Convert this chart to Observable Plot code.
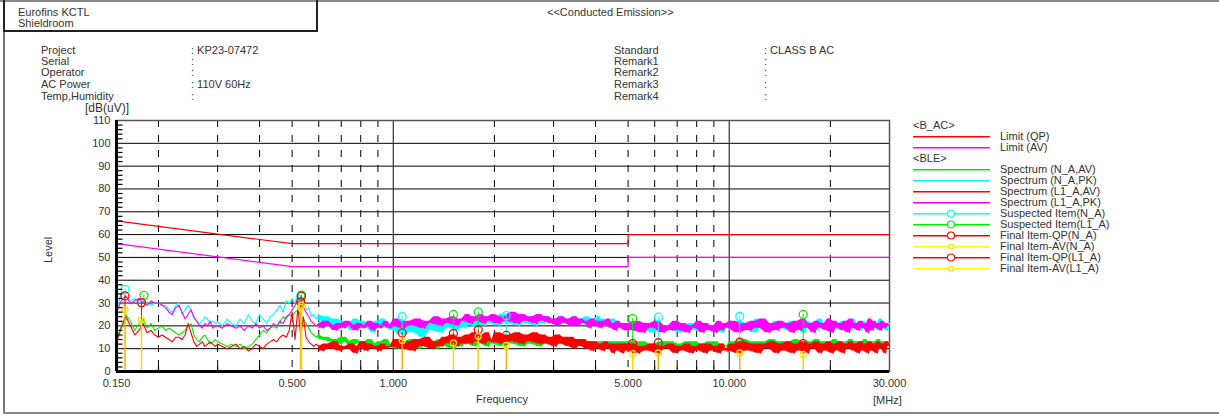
<!DOCTYPE html>
<html><head><meta charset="utf-8">
<script src="https://cdn.jsdelivr.net/npm/d3@7"></script>
<script src="https://cdn.jsdelivr.net/npm/@observablehq/plot@0.6"></script>
<style>
body{margin:0;background:#fff;font-family:"Liberation Sans",Arial,sans-serif;color:#333;}
#page{position:relative;width:1219px;height:416px;overflow:hidden;background:#fff;}
#chart{position:absolute;left:0;top:0;}
.t{position:absolute;font-size:11px;line-height:12px;white-space:nowrap;color:#333;}
.leg{position:absolute;left:913px;width:300px;height:11px;}
.leg svg{position:absolute;left:0;top:0;}
.leg span{position:absolute;left:87px;top:-1px;font-size:11px;line-height:12px;color:#333;white-space:nowrap;}
</style></head>
<body>
<div id="page">
  <div id="chart"></div>
  <div style="position:absolute;left:0;top:0;width:1219px;height:0;border-top:2px solid #888;"></div>
  <div style="position:absolute;left:3px;top:0;width:0;height:414px;border-left:2px solid #777;"></div>
  <div style="position:absolute;left:3px;top:412px;width:1216px;height:0;border-top:2px solid #888;"></div>
  <div style="position:absolute;left:3px;top:0;width:311px;height:30px;border:2px solid #222;border-top:none;"></div>
  <div class="t" style="left:18px;top:6px;">Eurofins KCTL</div>
  <div class="t" style="left:18px;top:17px;">Shieldroom</div>
  <div class="t" style="left:547px;top:6px;">&lt;&lt;Conducted Emission&gt;&gt;</div>
  <div id="info"></div>
  <div class="t" style="left:85px;top:102px;font-size:12px;">[dB(uV)]</div>
  <div class="t" style="left:30px;top:239px;transform:rotate(-90deg);transform-origin:18px 6px;">Level</div>
  <div class="t" style="left:476px;top:393px;">Frequency</div>
  <div class="t" style="left:873px;top:394px;">[MHz]</div>
  <div id="legend"></div>
</div>
<script>
// ---------- header info ----------
const infoLeftLabels = ["Project", "Serial", "Operator", "AC Power", "Temp,Humidity"];
const infoLeftValues = [": KP23-07472", ":", ":", ": 110V 60Hz", ":"];
const infoRightLabels = ["Standard", "Remark1", "Remark2", "Remark3", "Remark4"];
const infoRightValues = [": CLASS B AC", ":", ":", ":", ":"];

// ---------- axes ----------
const xDomain = [0.15, 30];
const yDomain = [0, 110];
const xLabelTicks = [0.15, 0.5, 1, 5, 10, 30];
const xDashGrid = [0.2, 0.3, 0.4, 0.5, 0.6, 0.7, 0.8, 0.9, 2, 3, 4, 5, 6, 7, 8, 9, 20];
const xSolidGrid = [1, 10];
const xMinorTicks = [0.2, 0.3, 0.4, 0.6, 0.7, 0.8, 0.9, 2, 3, 4, 6, 7, 8, 9, 20];
const yMajorTicks = [0, 10, 20, 30, 40, 50, 60, 70, 80, 90, 100, 110];
const yGrid = [10, 20, 30, 40, 50, 60, 70, 80, 90, 100];
const yMinorTicks = [2,4,6,8,12,14,16,18,22,24,26,28,32,34,36,38,42,44,46,48,52,54,56,58,62,64,66,68,72,74,76,78,82,84,86,88,92,94,96,98,102,104,106,108];
const noiseStart = 0.6; // above this the sweep is drawn as a dense noise trace

// ---------- limits (B_AC) ----------
const limitFreq = [0.15, 0.5, 5, 5, 30];
const limitQP = [66, 56, 56, 60, 60];
const limitAV = [56, 46, 46, 50, 50];

// ---------- spectrum sweep frequencies (MHz) ----------
const freq = [
  0.150,0.155,0.160,0.165,0.170,0.175,0.180,0.185,0.190,0.195,
  0.200,0.205,0.210,0.215,0.220,0.225,0.230,0.235,0.240,0.245,0.250,0.255,0.260,0.265,0.270,0.275,0.280,0.285,0.290,0.295,
  0.30,0.31,0.32,0.33,0.34,0.35,0.36,0.37,0.38,0.39,0.40,0.41,0.42,0.43,0.44,0.45,0.46,0.47,0.48,0.49,
  0.50,0.51,0.52,0.53,0.54,0.55,0.56,0.57,0.58,0.59,
  0.60,0.62,0.64,0.66,0.68,0.70,0.72,0.74,0.76,0.78,0.80,0.82,0.84,0.86,0.88,0.90,0.92,0.94,0.96,0.98,
  1.00,1.04,1.08,1.12,1.16,1.20,1.24,1.28,1.32,1.36,1.40,1.44,1.48,1.52,1.56,1.60,1.64,1.68,1.72,1.76,1.80,1.84,1.88,1.92,1.96,
  2.000,2.075,2.150,2.225,2.300,2.375,2.450,2.525,2.600,2.675,2.750,2.825,2.900,2.975,3.050,3.125,3.200,3.275,3.350,3.425,
  3.500,3.575,3.650,3.725,3.800,3.875,3.950,4.025,4.100,4.175,4.250,4.325,4.400,4.475,4.550,4.625,4.700,4.775,4.850,4.925,
  5.0,5.2,5.4,5.6,5.8,6.0,6.2,6.4,6.6,6.8,7.0,7.2,7.4,7.6,7.8,8.0,8.2,8.4,8.6,8.8,9.0,9.2,9.4,9.6,9.8,
  10.0,10.4,10.8,11.2,11.6,12.0,12.4,12.8,13.2,13.6,14.0,14.4,14.8,15.2,15.6,16.0,16.4,16.8,17.2,17.6,18.0,18.4,18.8,19.2,19.6,
  20.0,20.4,20.8,21.2,21.6,22.0,22.4,22.8,23.2,23.6,24.0,24.4,24.8,25.2,25.6,26.0,26.4,26.8,27.2,27.6,28.0,28.4,28.8,29.2,29.6,30.0
];

// Spectrum (N_A,AV) - green
const specNAV = [
  14,20,25,22,18,21,23,19,21,18,
  19,20,18,19,18,17,16,17,18,20,21,16,14,13,15,16,14,12,13,14,
  13,12,11,12,11,12,10,11,12,14,16,18,17,19,20,19,22,24,23,25,
  24,26,27,25,23,21,19,17,16,15,
  16,14,15,13,14,12,15,13,11,14,12,13,11,14,12,10,13,12,14,11,
  12,10,13,11,14,10,12,11,13,10,14,11,12,10,13,11,14,12,13,11,14,12,13,11,14,
  12,14,11,13,12,14,11,13,12,14,11,13,12,14,11,13,12,13,11,13,
  12,13,11,13,12,13,11,13,11,13,10,13,11,13,10,13,11,13,10,13,
  11,13,10,13,11,12,10,13,11,13,10,12,11,13,10,13,11,12,10,13,11,13,10,12,11,
  11,13,10,14,11,13,10,13,11,14,10,13,11,13,10,14,11,13,10,13,11,14,10,13,11,
  13,10,14,11,13,10,13,11,14,10,13,11,13,10,14,11,13,10,13,11,14,10,13,11,13,12
];
// Spectrum (N_A,PK) - cyan
const specNPK = [
  26,35,33,31,32,30,31,30,29,30,
  30,29,29,27,26,29,30,25,27,29,27,23,22,21,22,24,23,21,22,21,
  22,20,23,21,20,23,21,25,22,21,25,23,21,24,25,27,29,26,31,30,
  32,30,34,33,31,27,28,24,25,23,
  25,22,24,20,23,19,22,21,18,23,20,22,19,21,17,22,20,23,19,21,
  18,22,16,21,17,20,15,21,18,22,17,21,19,23,18,22,19,23,20,24,19,23,20,24,21,
  24,20,25,21,24,20,23,21,24,20,23,21,24,22,23,21,24,22,23,21,
  24,22,23,21,24,22,23,21,24,21,23,20,22,21,23,19,22,20,21,19,
  20,18,21,19,20,17,21,19,20,18,21,17,20,19,21,18,20,17,21,19,20,18,21,17,20,
  21,18,22,19,21,17,23,19,20,18,22,19,21,18,22,19,21,17,22,20,21,18,23,19,20,
  18,22,19,21,18,22,20,21,18,23,19,20,18,22,19,21,18,22,20,21,18,23,19,21,18,21
];
// Spectrum (L1_A,AV) - red
const specL1AV = [
  13,19,24,20,16,18,21,17,18,16,
  15,16,15,14,13,15,15,14,16,21,17,13,11,12,13,11,12,13,12,11,
  12,11,10,11,12,10,11,9,10,12,11,10,12,13,14,13,15,16,15,18,
  26,14,28,16,24,15,13,12,11,12,
  11,9,12,10,13,9,11,10,12,8,11,13,9,12,10,11,9,12,10,11,
  11,14,10,13,9,14,11,15,10,13,11,15,12,16,11,15,12,16,12,17,13,16,12,17,13,
  13,17,12,16,13,17,12,16,13,17,12,16,12,15,11,16,12,15,11,15,
  10,14,11,14,10,13,9,13,10,12,9,13,10,12,8,12,9,12,8,12,
  9,12,8,11,9,12,8,11,10,12,8,11,9,12,8,11,9,12,8,12,9,11,8,12,9,
  9,12,8,13,9,12,8,12,10,13,8,12,9,13,8,12,9,13,8,12,10,13,8,12,9,
  13,8,12,9,13,8,12,10,13,9,12,8,13,9,12,8,13,9,12,8,13,10,12,8,13,11
];
// Spectrum (L1_A,PK) - magenta
const specL1PK = [
  26,31,33,30,31,32,30,29,31,30,
  30,29,28,26,25,28,29,26,23,25,27,24,22,20,19,21,20,22,19,20,
  20,19,21,20,19,20,18,20,19,21,19,20,18,19,21,20,22,21,24,25,
  27,29,31,30,28,26,24,22,21,20,
  21,19,22,20,18,21,19,22,20,18,21,19,20,22,18,21,19,20,22,19,
  20,23,19,22,20,23,19,22,21,24,20,23,21,24,20,23,22,25,21,24,22,25,21,24,22,
  25,21,24,22,26,21,25,22,24,21,25,22,24,21,23,20,24,21,23,20,
  24,20,23,21,22,19,23,20,22,19,22,20,23,19,21,18,22,19,21,18,
  21,18,22,17,21,19,22,17,20,18,22,18,21,17,20,19,22,17,21,18,20,17,22,18,21,
  19,22,17,21,18,22,19,23,17,21,18,22,19,21,17,22,18,23,19,21,17,22,19,21,18,
  23,17,22,19,21,18,22,17,23,19,21,18,22,19,21,17,23,18,22,19,21,18,22,19,21,20
];

// ---------- suspected / final items ----------
const itemFreqN = [0.159, 0.530, 1.063, 2.17, 6.15, 10.75];
const suspectedN = [36.0, 33.0, 24.0, 24.5, 23.8, 24.1];
const finalQPN = [33.1, 30.5, 16.9, 15.8, 12.6, 12.9];
const finalAVN = [27.1, 28.0, 13.6, 11.4, 8.1, 8.1];
const suspFreqL1 = [0.181, 0.533, 1.51, 1.79, 5.16, 16.6];
const itemFreqL1 = [0.178, 0.533, 1.51, 1.79, 5.16, 16.6];
const suspectedL1 = [33.4, 33.5, 25.0, 26.1, 23.2, 25.0];
const finalQPL1 = [30.2, 33.0, 16.6, 18.3, 12.2, 12.2];
const finalAVL1 = [22.7, 29.0, 12.5, 15.4, 7.8, 7.5];

// ---------- colours ----------
const C = {red:"#ff0000", mag:"#ff00ff", green:"#00ee00", cyan:"#00ffff", yellow:"#f2e600", stemN:"#ffb000", stemL1:"#ffd400"};

// ---------- build tables ----------
const n = Math.min(freq.length, specNAV.length, specNPK.length, specL1AV.length, specL1PK.length);
// each sweep point with the span between it and the next reading (what the dense trace sweeps over)
const series = (arr) => d3.range(n).map(i => {
  const a = arr[i], b = arr[Math.min(i + 1, n - 1)];
  return {f: freq[i], v: a, lo: Math.min(a, b), hi: Math.max(a, b)};
});
const limQP = limitFreq.map((f,i)=>({f, v: limitQP[i]}));
const limAV = limitFreq.map((f,i)=>({f, v: limitAV[i]}));
const itemsN = itemFreqN.map((f,i)=>({f, s: suspectedN[i], qp: finalQPN[i], av: finalAVN[i]}));
const itemsL1 = itemFreqL1.map((f,i)=>({f, sf: suspFreqL1[i], s: suspectedL1[i], qp: finalQPL1[i], av: finalAVL1[i]}));

const tickRight = {draw(ctx){ ctx.moveTo(0,0); ctx.lineTo(6,0); }};
const tickUp = {draw(ctx){ ctx.moveTo(0,0); ctx.lineTo(0,-5); }};

function trace(arr, color) {
  const data = series(arr);
  return [
    Plot.line(data, {filter: d => d.f <= noiseStart, x: "f", y: "v", stroke: color, strokeWidth: 1.1}),
    Plot.areaY(data, {filter: d => d.f >= noiseStart, x: "f", y1: "lo", y2: "hi", fill: color}),
    Plot.line(data, {filter: d => d.f >= noiseStart, x: "f", y: "v", stroke: color, strokeWidth: 1.1})
  ];
}

const chart = Plot.plot({
  width: 1219, height: 416,
  marginLeft: 116, marginRight: 330, marginTop: 120, marginBottom: 45,
  style: {fontFamily: '"Liberation Sans", Arial, sans-serif', fontSize: "11px", color: "#333", background: "transparent"},
  x: {type: "log", domain: xDomain},
  y: {domain: yDomain},
  marks: [
    // grid
    Plot.ruleY(yGrid, {stroke: "#000", strokeWidth: 1}),
    Plot.ruleX(xDashGrid, {stroke: "#000", strokeWidth: 1, strokeDasharray: "7,8"}),
    Plot.ruleX(xSolidGrid, {stroke: "#333", strokeWidth: 1.2}),
    Plot.frame({stroke: "#555", strokeWidth: 1.5}),
    // limits
    Plot.line(limQP, {x: "f", y: "v", stroke: C.red, strokeWidth: 1.2}),
    Plot.line(limAV, {x: "f", y: "v", stroke: C.mag, strokeWidth: 1.2}),
    // spectra
    ...trace(specNAV, C.green),
    ...trace(specNPK, C.cyan),
    ...trace(specL1AV, C.red),
    ...trace(specL1PK, C.mag),
    // item stems
    Plot.ruleX(itemsN, {x: "f", y1: 0, y2: "av", stroke: C.stemN, strokeWidth: 1.5}),
    Plot.ruleX(itemsL1, {x: "f", y1: 0, y2: "av", stroke: C.stemL1, strokeWidth: 1.5}),
    Plot.ruleX(itemsN, {x: "f", y1: "av", y2: "qp", stroke: C.red, strokeWidth: 1}),
    Plot.ruleX(itemsL1, {x: "f", y1: "av", y2: "qp", stroke: C.red, strokeWidth: 1}),
    Plot.ruleX(itemsN, {x: "f", y1: "qp", y2: "s", stroke: C.cyan, strokeWidth: 1}),
    Plot.ruleX(itemsL1, {x: "sf", y1: "qp", y2: "s", stroke: C.green, strokeWidth: 1}),
    // markers
    Plot.dot(itemsN, {x: "f", y: "s", r: 4, stroke: C.cyan, strokeWidth: 1.3, fill: "none"}),
    Plot.dot(itemsL1, {x: "sf", y: "s", r: 4, stroke: C.green, strokeWidth: 1.3, fill: "none"}),
    Plot.dot(itemsN, {x: "f", y: "qp", r: 4, stroke: C.red, strokeWidth: 1.3, fill: "none"}),
    Plot.dot(itemsL1, {x: "f", y: "qp", r: 4, stroke: C.red, strokeWidth: 1.3, fill: "none"}),
    Plot.dot(itemsN, {x: "f", y: "av", r: 3, stroke: C.yellow, strokeWidth: 1.3, fill: "none"}),
    Plot.dot(itemsL1, {x: "f", y: "av", r: 3, stroke: C.yellow, strokeWidth: 1.3, fill: "none"}),
    // axes
    Plot.ruleX([xDomain[0]], {stroke: "#000", strokeWidth: 3}),
    Plot.ruleY([yDomain[0]], {stroke: "#000", strokeWidth: 3}),
    Plot.dot(yMinorTicks, {y: d => d, frameAnchor: "left", symbol: tickRight, stroke: "#000", strokeWidth: 1.2, fill: "none"}),
    Plot.dot(xMinorTicks, {x: d => d, frameAnchor: "bottom", symbol: tickUp, stroke: "#000", strokeWidth: 1.2, fill: "none"}),
    Plot.axisY({ticks: yMajorTicks, tickSize: 0, tickPadding: 6, label: null, fontSize: 11}),
    Plot.axisX({ticks: xLabelTicks, tickFormat: d3.format(".3f"), tickSize: 0, tickPadding: 8, label: null, fontSize: 11})
  ]
});
document.getElementById("chart").appendChild(chart);

// header info rows
const info = document.getElementById("info");
const rowTops = [44, 55, 66, 78, 90];
function addText(txt, left, top){
  const d = document.createElement("div"); d.className = "t"; d.textContent = txt;
  d.style.left = left + "px"; d.style.top = top + "px"; info.appendChild(d);
}
infoLeftLabels.forEach((t,i)=>addText(t, 41, rowTops[i]));
infoLeftValues.forEach((t,i)=>addText(t, 191, rowTops[i]));
infoRightLabels.forEach((t,i)=>addText(t, 614, rowTops[i]));
infoRightValues.forEach((t,i)=>addText(t, 764, rowTops[i]));

// legend
const legendRows = [
  {head: "<B_AC>"},
  {label: "Limit (QP)", color: C.red},
  {label: "Limit (AV)", color: C.mag},
  {head: "<BLE>"},
  {label: "Spectrum (N_A,AV)", color: C.green},
  {label: "Spectrum (N_A,PK)", color: C.cyan},
  {label: "Spectrum (L1_A,AV)", color: C.red},
  {label: "Spectrum (L1_A,PK)", color: C.mag},
  {label: "Suspected Item(N_A)", color: C.cyan, marker: C.cyan, r: 3.5},
  {label: "Suspected Item(L1_A)", color: C.green, marker: C.green, r: 3.5},
  {label: "Final Item-QP(N_A)", color: C.red, marker: C.red, r: 3.5},
  {label: "Final Item-AV(N_A)", color: "#ffff00", marker: C.yellow, r: 2.5},
  {label: "Final Item-QP(L1_A)", color: C.red, marker: C.red, r: 3.5},
  {label: "Final Item-AV(L1_A)", color: "#ffff00", marker: C.yellow, r: 2.5}
];
const legendCenters = [125, 136, 147, 158, 169, 180, 191, 202, 213, 224, 235, 246, 257, 268];
const legend = document.getElementById("legend");
legendRows.forEach((row, i) => {
  const y = legendCenters[i];
  if (row.head) {
    const d = document.createElement("div"); d.className = "t"; d.textContent = row.head;
    d.style.left = "913px"; d.style.top = (y - 6) + "px"; legend.appendChild(d); return;
  }
  const div = document.createElement("div"); div.className = "leg"; div.style.top = (y - 5) + "px";
  const svg = d3.create("svg").attr("width", 80).attr("height", 11);
  svg.append("rect").attr("x", 0).attr("y", 5).attr("width", 77).attr("height", 1.5).attr("fill", row.color);
  if (row.marker) svg.append("circle").attr("cx", 38).attr("cy", 5.5).attr("r", row.r).attr("fill", "#fff").attr("stroke", row.marker).attr("stroke-width", 1.2);
  div.appendChild(svg.node());
  const s = document.createElement("span"); s.textContent = row.label; div.appendChild(s);
  legend.appendChild(div);
});
</script>
</body></html>
